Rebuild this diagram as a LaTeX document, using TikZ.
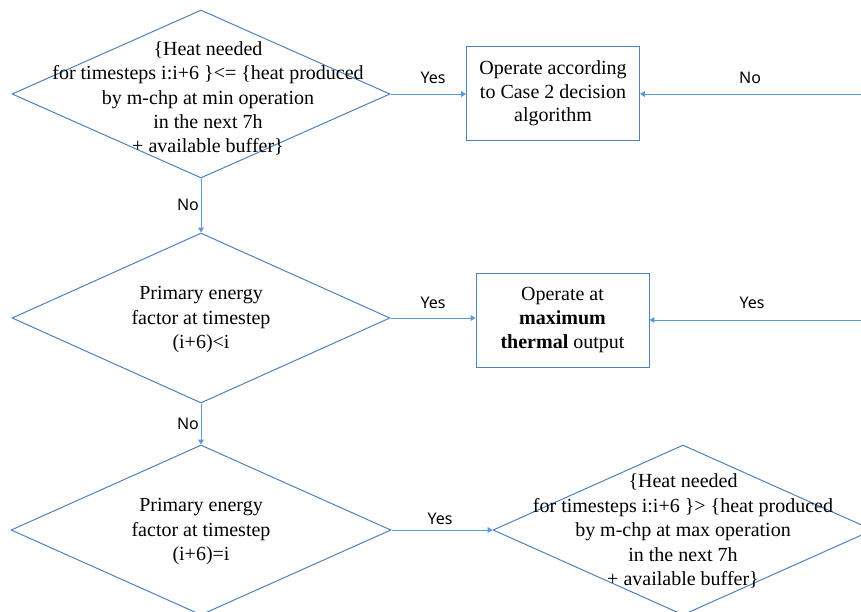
\documentclass[tikz,border=0pt]{standalone}
\usepackage{fontspec}
\setmainfont{Liberation Serif}
\newfontfamily\labelfont{Noto Sans}
\usetikzlibrary{arrows.meta,positioning,shapes.geometric}
\definecolor{shapeblue}{RGB}{79,129,189}
\definecolor{lineblue}{RGB}{91,155,213}

\begin{document}
\begin{tikzpicture}[x=0.5pt, y=-0.5pt,
  decision/.style={diamond, draw=shapeblue, line width=0.5pt, inner sep=0pt,
    minimum width=189pt, minimum height=85pt},
  dtext/.style={align=center, inner sep=0pt, font=\fontsize{10}{12.2}\selectfont},
  action/.style={draw=shapeblue, line width=0.5pt, fill=white, align=center,
    inner sep=0pt, minimum width=86.5pt, minimum height=47pt,
    font=\fontsize{10}{11.8}\selectfont},
  arr/.style={-{Triangle[length=2.4pt, width=2.8pt]}, line width=0.5pt, draw=lineblue},
  lbl/.style={font=\labelfont\fontsize{8}{9}\selectfont, inner sep=0pt}
]
  \useasboundingbox (0,0) rectangle (861,611);
  \clip (0,0) rectangle (861,611);

  \node[decision, minimum height=84pt] (heatmin) at (201,94) {};
  \node[dtext] (heatmintxt) at (208,98.5) {\{Heat needed\\for timesteps i:i+6 \}<= \{heat produced\\by m-chp at min operation\\in the next 7h\\+ available buffer\}};
  \node[decision] (pefless) at (201,318) {};
  \node[dtext] (peflesstxt) at (201,319.5) {Primary energy\\factor at timestep\\(i+6)<i};
  \node[decision, minimum width=190pt] (pefeq) at (201,530) {};
  \node[dtext] (pefeqtxt) at (201,531.5) {Primary energy\\factor at timestep\\(i+6)=i};
  \node[decision, minimum width=190pt] (heatmax) at (683,530) {};
  \node[dtext] (heatmaxtxt) at (683,531) {\{Heat needed\\for timesteps i:i+6 \}> \{heat produced\\by m-chp at max operation\\in the next 7h\\+ available buffer\}};

  \node[action] (case2) at (553,93.5) {Operate according\\to Case 2 decision\\algorithm};
  \node[action] (maxth) at (562.5,320) {Operate at\\\textbf{maximum}\\\textbf{thermal} output};

  \coordinate (noin) at (880,94);
  \coordinate (yesin) at (880,320);

  \draw[arr] (heatmin.east) -- (case2.west |- heatmin.east);
  \draw[arr] (noin) -- (case2.east |- noin);
  \draw[arr] (heatmin.south) -- (pefless.north);
  \draw[arr] (pefless.east) -- (maxth.west |- pefless.east);
  \draw[arr] (yesin) -- (maxth.east |- yesin);
  \draw[arr] (pefless.south) -- (pefeq.north);
  \draw[arr] (pefeq.east) -- (heatmax.west);

  \node[lbl] (yes1) at (433,78) {Yes};
  \node[lbl] (no1) at (750,78) {No};
  \node[lbl] (no2) at (188,205) {No};
  \node[lbl] (yes2) at (433,303) {Yes};
  \node[lbl] (yes3) at (752,303) {Yes};
  \node[lbl] (no3) at (188,424) {No};
  \node[lbl] (yes4) at (440,519) {Yes};
\end{tikzpicture}
\end{document}
